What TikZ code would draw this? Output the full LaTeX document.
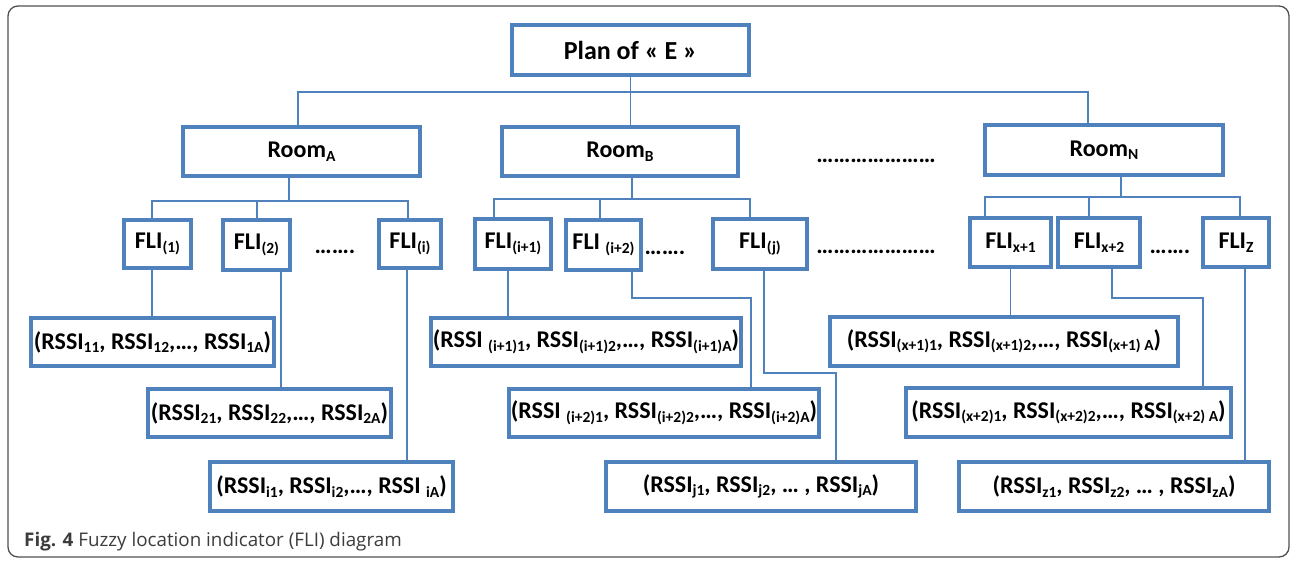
\documentclass[tikz,border=0pt]{standalone}
\usepackage{fontspec}
\setmainfont{Carlito}
\newfontfamily\capfont{Open Sans}
\usetikzlibrary{calc}
\definecolor{boxblue}{HTML}{4F81BD}
\definecolor{framegray}{HTML}{505050}
\definecolor{capgray}{HTML}{3C3C3C}
\newcommand{\lsub}[1]{\raisebox{-3.5pt}{\fontsize{15.5pt}{16pt}\selectfont #1}}
\tikzset{
  box/.style={draw=boxblue, line width=4pt, fill=white, inner sep=0pt, font=\fontsize{24pt}{26pt}\selectfont\bfseries},
  conn/.style={draw=boxblue, line width=1.8pt},
  dotsnode/.style={inner sep=0pt, anchor=base, font=\fontsize{24pt}{26pt}\selectfont\bfseries}
}
% \bx{name}{x1}{y1}{x2}{y2}{text}
\newcommand{\bx}[6]{%
  \node[box, minimum width={#4-#2-4pt}, minimum height={#5-#3-4pt}] (#1) at ({(#2+#4)/2},{(#3+#5)/2}) {#6};}
\begin{document}
\begin{tikzpicture}[x=1pt, y=-1pt]
\useasboundingbox (0,0) rectangle (1290,560);
\draw[framegray, line width=1.3pt, rounded corners=10pt] (8,6) rectangle (1289,557);

% level 0 and 1
\bx{plan}{510}{23}{751}{77}{\fontsize{26pt}{28pt}\selectfont Plan of « E »}
\bx{roomA}{181}{125}{422}{178}{Room\lsub{A}}
\bx{roomB}{500}{125}{740}{178}{Room\lsub{B}}
\bx{roomN}{983}{123}{1225}{177}{Room\lsub{N}}
\node[dotsnode] (dotsR) at (876,162) {…………………};

% level 2
\bx{fli1}{122}{218}{193}{270}{FLI\lsub{(1)}}
\bx{fli2}{221}{218}{292}{272}{FLI\lsub{(2)}}
\node[dotsnode] (dotsA) at (335,253) {…….};
\bx{flii}{377}{218}{443}{270}{FLI\lsub{(i)}}
\bx{fliip1}{473}{217}{553}{271}{FLI\lsub{(i+1)}}
\bx{fliip2}{564}{218}{643}{272}{FLI \lsub{(i+2)}}
\node[dotsnode] (dotsB) at (665,254) {…….};
\bx{flij}{711}{217}{809}{271}{FLI\lsub{(j)}}
\node[dotsnode] (dotsC) at (876,253) {…………………};
\bx{flix1}{968}{216}{1053}{269}{FLI\lsub{x+1}}
\bx{flix2}{1056}{216}{1142}{269}{FLI\lsub{x+2}}
\node[dotsnode] (dotsD) at (1170,253) {…….};
\bx{fliz}{1201}{216}{1271}{269}{FLI\lsub{Z}}

% level 3
\bx{r1}{29}{316}{276}{368}{(RSSI\lsub{11}, RSSI\lsub{12},…, RSSI\lsub{1A})}
\bx{r2}{146}{387}{393}{439}{(RSSI\lsub{21}, RSSI\lsub{22},…, RSSI\lsub{2A})}
\bx{ri}{208}{460}{455}{513}{(RSSI\lsub{i1}, RSSI\lsub{i2},…, RSSI \lsub{iA})}
\bx{rip1}{429}{316}{743}{368}{(RSSI \lsub{(i+1)1}, RSSI\lsub{(i+1)2},…, RSSI\lsub{(i+1)A})}
\bx{rip2}{507}{387}{821}{439}{(RSSI \lsub{(i+2)1}, RSSI\lsub{(i+2)2},…, RSSI\lsub{(i+2)A})}
\bx{rj}{604}{460}{918}{513}{(RSSI\lsub{j1}, RSSI\lsub{j2}, … , RSSI\lsub{jA})}
\bx{rx1}{828}{315}{1180}{368}{(RSSI\lsub{(x+1)1}, RSSI\lsub{(x+1)2},…, RSSI\lsub{(x+1) A})}
\bx{rx2}{904}{386}{1233}{439}{(RSSI\lsub{(x+2)1}, RSSI\lsub{(x+2)2},…, RSSI\lsub{(x+2) A})}
\bx{rz}{957}{460}{1271}{513}{(RSSI\lsub{z1}, RSSI\lsub{z2}, … , RSSI\lsub{zA})}

% connectors: plan -> rooms
\draw[conn] (plan.south) -- ++(0,15) coordinate (b0);
\draw[conn] ([xshift=-3.5pt]roomA.north) |- (b0) -| ([xshift=-16pt]roomN.north);
\draw[conn] (b0) -- (b0 |- roomB.north);

% roomA -> FLIs
\draw[conn] ([xshift=-12.5pt]roomA.south) -- ++(0,23) coordinate (ba);
\draw[conn] ([xshift=-5.5pt]fli1.north) |- (ba) -| ([xshift=-2pt]flii.north);
\draw[conn] ([xshift=0.5pt]fli2.north) -- ([xshift=0.5pt]fli2.north |- ba);

% roomB -> FLIs
\draw[conn] ([xshift=12pt]roomB.south) -- ++(0,21) coordinate (bb);
\draw[conn] ([xshift=-19pt]fliip1.north) |- (bb) -| ([xshift=-10pt]flij.north);
\draw[conn] ([xshift=-3.5pt]fliip2.north) -- ([xshift=-3.5pt]fliip2.north |- bb);

% roomN -> FLIs
\draw[conn] ([xshift=17pt]roomN.south) -- ++(0,20) coordinate (bn);
\draw[conn] ([xshift=-25.5pt]flix1.north) |- (bn) -| ([xshift=4pt]fliz.north);
\draw[conn] ([xshift=-10pt]flix2.north) -- ([xshift=-10pt]flix2.north |- bn);

% FLIs -> RSSI boxes
\draw[conn] ([xshift=-5.5pt]fli1.south) -- ([xshift=-5.5pt]fli1.south |- r1.north);
\draw[conn] ([xshift=24.5pt]fli2.south) -- ([xshift=24.5pt]fli2.south |- r2.north);
\draw[conn] ([xshift=-3pt]flii.south) -- ([xshift=-3pt]flii.south |- ri.north);
\draw[conn] ([xshift=-5pt]fliip1.south) -- ([xshift=-5pt]fliip1.south |- rip1.north);
\draw[conn] ([xshift=28.5pt]fliip2.south) -- ++(0,26) -| ([xshift=87pt]rip2.north);
\draw[conn] ([xshift=4pt]flij.south) -- ++(0,102) -| ([xshift=75pt]rj.north);
\draw[conn] (flix1.south) -- (flix1.south |- rx1.north);
\draw[conn] ([xshift=13pt]flix2.south) -- ++(0,29) -| ([xshift=134.5pt]rx2.north);
\draw[conn] ([xshift=9pt]fliz.south) -- ([xshift=9pt]fliz.south |- rz.north);

% caption
\node[anchor=base west, inner sep=0pt, text=capgray, font=\capfont\fontsize{18.8pt}{20pt}\selectfont] (cap) at (24,546) {\textbf{Fig. 4} Fuzzy location indicator (FLI) diagram};
\end{tikzpicture}
\end{document}
